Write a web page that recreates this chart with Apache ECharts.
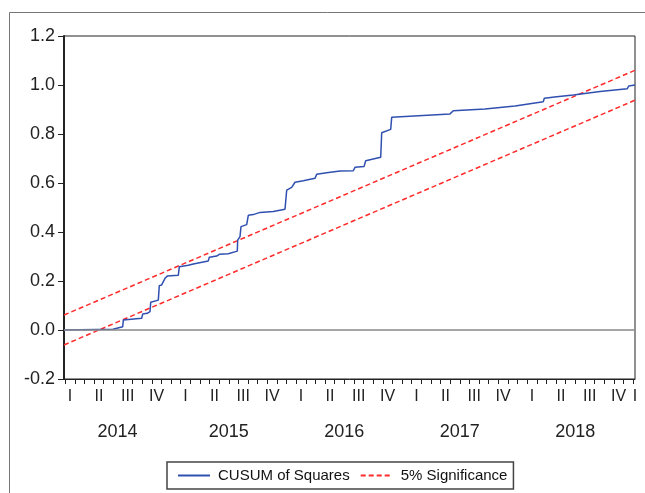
<!DOCTYPE html>
<html>
<head>
<meta charset="utf-8">
<script src="https://cdn.jsdelivr.net/npm/echarts@6/dist/echarts.min.js"></script>
<style>
html,body{margin:0;padding:0;background:#fff;}
#chart{width:645px;height:493px;}
</style>
</head>
<body>
<div id="chart"></div>
<script>
// Time axis unit: months since January 2014 (0 = start of 2014)
const quarterLabels = ['I', 'II', 'III', 'IV'];
const yearLabels = ['2014', '2015', '2016', '2017', '2018'];

const sampleStart = 0.873;   // first plotted observation (months since 2014M1)
const sampleEnd = 60.197;    // last plotted observation

// CUSUM of squares
const cusumT = [0.873, 5.964, 6.171, 6.971, 7.034, 8.945, 9.049, 9.527, 9.808, 9.881,
  10.670, 10.774, 11.023, 11.366, 11.605, 12.748, 12.852, 13.787, 14.306, 15.865,
  15.969, 16.738, 17.008, 17.943, 18.119, 18.878, 18.919, 19.158, 19.262, 19.855,
  20.021, 20.540, 21.236, 22.618, 23.834, 24.010, 24.530, 24.873, 25.735, 26.951,
  27.127, 28.166, 29.548, 30.930, 31.106, 32.042, 32.218, 33.777, 33.881, 34.816,
  34.919, 40.977, 41.319, 44.613, 47.730, 47.803, 50.670, 50.774, 52.062, 53.787,
  56.561, 59.397, 59.543, 60.197];
const cusumV = [0.000, 0.003, 0.011, 0.013, 0.041, 0.048, 0.065, 0.068, 0.075, 0.113,
  0.122, 0.181, 0.184, 0.211, 0.220, 0.223, 0.258, 0.264, 0.269, 0.282,
  0.297, 0.302, 0.309, 0.311, 0.318, 0.322, 0.367, 0.381, 0.422, 0.430,
  0.468, 0.471, 0.480, 0.484, 0.493, 0.571, 0.582, 0.603, 0.609, 0.619,
  0.636, 0.642, 0.649, 0.650, 0.664, 0.667, 0.691, 0.705, 0.805, 0.819,
  0.868, 0.882, 0.895, 0.902, 0.914, 0.918, 0.932, 0.946, 0.952, 0.959,
  0.973, 0.985, 0.996, 1.000];

// 5% significance bounds (straight lines)
const sigT = [0.873, 60.197];
const sigUpper = [0.061, 1.060];
const sigLower = [-0.061, 0.938];

const zip = (a, b) => a.map((v, i) => [v, b[i]]);

// tick / label positions
const monthTicks = [];
for (let m = Math.ceil(sampleStart); m <= Math.floor(sampleEnd); m++) monthTicks.push(m);
const quarterCenters = [];
for (let q = 0; q < yearLabels.length * 4; q++) quarterCenters.push(q * 3 + 1.5);
quarterCenters.push(sampleEnd);
const yearCenters = yearLabels.map((y, i) => {
  const a = Math.max(i * 12, sampleStart), b = Math.min((i + 1) * 12, sampleEnd);
  return (a + b) / 2;
});

const FONT = '"Liberation Sans", Arial, sans-serif';
const chart = echarts.init(document.getElementById('chart'), null, {renderer: 'canvas'});
chart.setOption({
  animation: false,
  backgroundColor: '#fff',
  graphic: [{
    type: 'rect', z: -10, silent: true,
    shape: {x: 9.5, y: 12.5, width: 700, height: 600},
    style: {fill: null, stroke: '#777', lineWidth: 1}
  }],
  grid: {left: 64, right: 10, top: 36, bottom: 114, show: true,
         borderColor: '#222', borderWidth: 1, backgroundColor: 'transparent'},
  legend: {
    left: 167, top: 462, orient: 'horizontal',
    padding: [6, 6, 6, 10], itemGap: 10, itemWidth: 32, itemHeight: 14,
    borderColor: '#444', borderWidth: 1.5, borderRadius: 0,
    itemStyle: {opacity: 0},
    data: ['CUSUM of Squares', '5% Significance'],
    textStyle: {fontSize: 15, fontFamily: FONT, color: '#111', padding: [0, 0, 0, 3]}
  },
  xAxis: [{
    type: 'value', min: sampleStart, max: sampleEnd, position: 'bottom',
    axisLine: {show: true, onZero: false, lineStyle: {color: '#222', width: 1}},
    axisTick: {show: true, customValues: monthTicks, length: 5, lineStyle: {color: '#222'}},
    axisLabel: {show: true, customValues: quarterCenters, margin: 10, fontSize: 16,
      fontFamily: FONT, color: '#222',
      formatter: v => quarterLabels[Math.floor(v / 3 + 1e-6) % 4]},
    splitLine: {show: false}
  }, {
    type: 'value', min: sampleStart, max: sampleEnd, position: 'bottom',
    axisLine: {show: false}, axisTick: {show: false},
    axisLabel: {show: true, customValues: yearCenters, margin: 44, fontSize: 18,
      fontFamily: FONT, color: '#222',
      formatter: v => yearLabels[Math.floor(v / 12)]},
    splitLine: {show: false}
  }],
  yAxis: {
    type: 'value', min: -0.2, max: 1.2, interval: 0.2,
    axisLine: {show: true, onZero: false, lineStyle: {color: '#222', width: 2}},
    axisTick: {show: true, length: 6, lineStyle: {color: '#222'}},
    axisLabel: {margin: 9, fontSize: 18, fontFamily: FONT, color: '#222',
      formatter: v => v.toFixed(1)},
    splitLine: {show: false}
  },
  series: [{
    name: 'zero', type: 'line', data: [], z: 1, silent: true,
    markLine: {silent: true, symbol: 'none', label: {show: false},
      lineStyle: {color: '#888', width: 1.5, type: 'solid'},
      data: [{yAxis: 0}]}
  }, {
    name: '5% Significance', type: 'line', z: 2, symbol: 'none', silent: true,
    data: zip(sigT, sigUpper),
    lineStyle: {color: '#ff2a2a', width: 1.5, type: [5, 3]}, itemStyle: {color: '#ff2a2a'}
  }, {
    name: '5% Significance', type: 'line', z: 2, symbol: 'none', silent: true,
    data: zip(sigT, sigLower),
    lineStyle: {color: '#ff2a2a', width: 1.5, type: [5, 3]}, itemStyle: {color: '#ff2a2a'}
  }, {
    name: 'CUSUM of Squares', type: 'line', z: 3, symbol: 'none', silent: true,
    data: zip(cusumT, cusumV),
    lineStyle: {color: '#3050b0', width: 1.5}, itemStyle: {color: '#3050b0'}
  }]
});
</script>
</body>
</html>
